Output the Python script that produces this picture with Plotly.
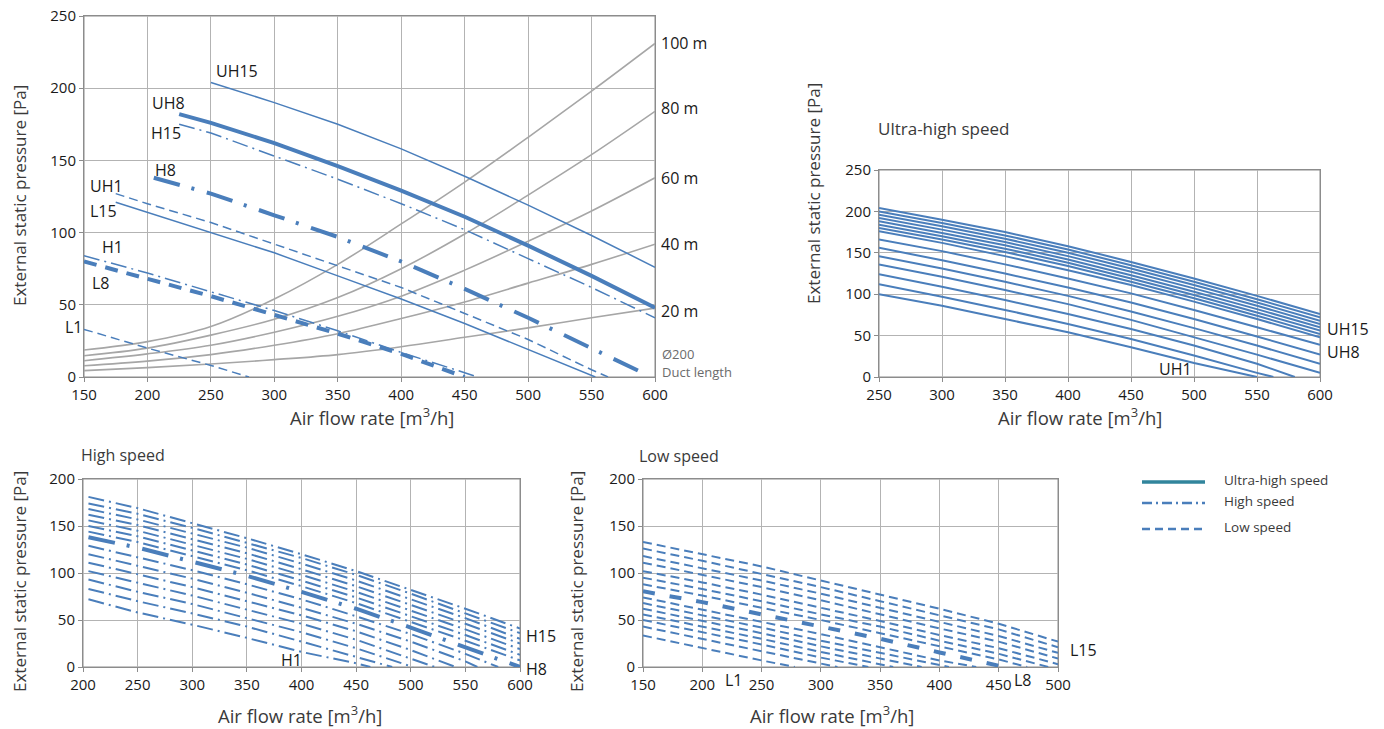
import plotly.graph_objects as go

# page body adds an 8px margin around the plot div, so positions are offset by it
W, H = 1376, 721
OFF = 8
BLUE = "#4a7ebb"
CURVE_GREY = "#a6a6a6"
GRID = "#b3b3b3"
AXIS = "#8c8c8c"
FONT = "Open Sans"
TXT = "#1a1a1a"

# ---------------- Main chart: fan curves + Ø200 duct resistance ----------------
DUCT_X = [150, 200, 250, 300, 350, 400, 450, 500, 550, 600]
DUCT_20 = [4.4, 6.5, 9, 12, 15.5, 21, 27.5, 34, 41, 47.7]
DUCT_40 = [7.8, 11, 15.5, 22, 30, 40.5, 52, 65, 78, 92]
DUCT_60 = [11.3, 16, 22, 31, 42, 56, 74, 94, 115, 138]
DUCT_80 = [14.7, 20, 29, 40, 55, 75, 99, 126, 154, 184]
DUCT_100 = [18.7, 24.5, 35, 54, 78, 106, 135, 166, 198, 231]
DUCT_LABELS = ["20 m", "40 m", "60 m", "80 m", "100 m"]

MAIN_UH15_X = [250, 300, 350, 400, 450, 500, 550, 600]
MAIN_UH15_Y = [204, 190, 175, 158, 139, 119, 98, 76]
MAIN_UH8_X = [225, 250, 300, 350, 400, 450, 500, 550, 600]
MAIN_UH8_Y = [182, 176, 162, 146, 129, 111, 91, 70, 48]
MAIN_UH1_X = [175, 200, 250, 300, 350, 400, 450, 500, 553]
MAIN_UH1_Y = [121, 114, 100, 86, 70, 54, 37, 19, 0]
MAIN_H15_X = [225, 250, 300, 350, 400, 450, 500, 550, 600]
MAIN_H15_Y = [175, 169, 153, 137, 120, 102, 82, 62, 41]
MAIN_H8_X = [205, 250, 300, 350, 400, 450, 500, 550, 590]
MAIN_H8_Y = [138, 127, 112, 97, 80, 61, 41, 20, 3]
MAIN_H1_X = [150, 200, 250, 300, 350, 400, 450, 460]
MAIN_H1_Y = [84, 72, 59, 46, 32, 17, 3, 0]
MAIN_L15_X = [175, 200, 250, 300, 350, 400, 450, 500, 550, 563]
MAIN_L15_Y = [127, 120, 107, 92, 77, 62, 44, 26, 5, 0]
MAIN_L8_X = [150, 200, 250, 300, 350, 400, 450]
MAIN_L8_Y = [80, 68, 56, 43, 30, 16, 0]
MAIN_L1_X = [150, 200, 250, 280]
MAIN_L1_Y = [33, 20, 8, 0]

# ---------------- Ultra-high speed ----------------
UH_X = [250, 300, 350, 400, 450, 500, 550, 600]
UH_END = {"UH1": 550, "UH2": 563, "UH3": 580}
UH_Y = {
    "UH1": [100, 86, 70, 54, 36, 17],
    "UH2": [112, 97, 81, 64, 46, 26, 5],
    "UH3": [124, 109, 93, 76, 58, 38, 16],
    "UH4": [136, 121, 105, 88, 69, 48, 27, 5],
    "UH5": [146, 131, 115, 98, 79, 59, 38, 16],
    "UH6": [156, 141, 125, 108, 90, 70, 49, 27],
    "UH7": [166, 152, 136, 119, 101, 81, 60, 39],
    "UH8": [176, 162, 146, 129, 111, 91, 70, 48],
    "UH9": [180, 166, 151, 134, 115, 95, 74, 52],
    "UH10": [184, 170, 155, 138, 119, 99, 78, 56],
    "UH11": [188, 174, 159, 142, 123, 103, 82, 60],
    "UH12": [192, 178, 163, 146, 127, 107, 86, 64],
    "UH13": [196, 182, 167, 150, 131, 111, 90, 68],
    "UH14": [200, 186, 171, 154, 135, 115, 94, 72],
    "UH15": [204, 190, 175, 158, 139, 119, 98, 76],
}

# ---------------- High speed ----------------
H_X = [205, 250, 300, 350, 400, 450, 500, 550, 600]
H_END = {"H1": 463, "H2": 483, "H3": 502, "H4": 522, "H5": 541, "H6": 561, "H7": 580}
H_Y = {
    "H1": [72, 58, 45, 31, 16, 4],
    "H2": [83, 70, 57, 43, 27, 11],
    "H3": [93, 80, 67, 52, 37, 20, 1],
    "H4": [102, 90, 76, 61, 46, 29, 9],
    "H5": [111, 99, 85, 70, 55, 38, 18],
    "H6": [120, 108, 94, 79, 63, 46, 27, 6],
    "H7": [129, 117, 103, 88, 72, 54, 35, 14],
    "H8": [138, 127, 112, 97, 80, 62, 42, 21, 0],
    "H9": [144, 133, 118, 103, 86, 68, 48, 28, 7],
    "H10": [150, 139, 124, 109, 92, 74, 54, 34, 13],
    "H11": [156, 145, 130, 115, 98, 80, 60, 40, 19],
    "H12": [162, 151, 136, 121, 104, 86, 66, 46, 25],
    "H13": [168, 157, 142, 127, 110, 92, 72, 52, 30],
    "H14": [174, 163, 148, 132, 116, 98, 78, 57, 36],
    "H15": [181, 169, 153, 137, 120, 102, 82, 62, 41],
}

# ---------------- Low speed ----------------
L_X = [150, 200, 250, 300, 350, 400, 450, 500]
L_END = {"L1": 278, "L2": 314, "L3": 340, "L4": 361, "L5": 385,
         "L6": 408, "L7": 431, "L8": 455, "L9": 474, "L10": 492}
L_Y = {
    "L1": [33.5, 20, 7],
    "L2": [43, 30, 17, 4],
    "L3": [50, 37, 24, 10],
    "L4": [56, 43, 30, 16, 3],
    "L5": [62, 49, 36, 22, 9],
    "L6": [68, 55, 42, 28, 15, 2],
    "L7": [74, 61, 48, 35, 21, 7],
    "L8": [80.5, 69, 56, 43, 30, 15.5, 1.5],
    "L9": [88, 76, 63, 50, 36, 22, 8],
    "L10": [95, 83, 70, 56, 43, 28, 14],
    "L11": [102, 90, 77, 63, 49, 34, 20, 3],
    "L12": [111, 98, 85, 71, 56, 41, 27, 9],
    "L13": [118, 105, 92, 78, 63, 48, 33, 15],
    "L14": [126, 113, 99, 85, 70, 55, 40, 21],
    "L15": [133, 120, 107, 92, 77, 62, 46, 27],
}

LEGEND_ITEMS = ["Ultra-high speed", "High speed", "Low speed"]

# dash styles
DASHDOT_THIN = "16px,5px,2px,5px"
DASHDOT_THICK = "27px,12px,3px,13px"
DASH_THIN = "9px,5px"
DASH_THICK_MAIN = "13px,9px"
DASH_THICK_LOW = "12px,15px"


def px(x):
    return (x - OFF) / W


def py(y):
    return 1 - (y - OFF) / H


fig = go.Figure()


def add_line(x, y, axes, width, dash="solid", color=BLUE, shape="linear"):
    fig.add_trace(go.Scatter(
        x=x, y=y, mode="lines", xaxis=axes[0], yaxis=axes[1],
        line=dict(color=color, width=width, dash=dash, shape=shape),
        hoverinfo="skip", showlegend=False))


def series(xs, ys, end):
    xx = list(xs[:len(ys)])
    yy = list(ys)
    if end is not None:
        xx.append(end)
        yy.append(0)
    return xx, yy


# ---- main chart
for d in [DUCT_20, DUCT_40, DUCT_60, DUCT_80, DUCT_100]:
    add_line(DUCT_X, d, ("x", "y"), 1.6, color=CURVE_GREY, shape="spline")
add_line(MAIN_L1_X, MAIN_L1_Y, ("x", "y"), 1.5, DASH_THIN)
add_line(MAIN_L15_X, MAIN_L15_Y, ("x", "y"), 1.5, DASH_THIN)
add_line(MAIN_L8_X, MAIN_L8_Y, ("x", "y"), 4, DASH_THICK_MAIN)
add_line(MAIN_H1_X, MAIN_H1_Y, ("x", "y"), 1.5, DASHDOT_THIN)
add_line(MAIN_H15_X, MAIN_H15_Y, ("x", "y"), 1.5, DASHDOT_THIN)
add_line(MAIN_H8_X, MAIN_H8_Y, ("x", "y"), 4, DASHDOT_THICK)
add_line(MAIN_UH1_X, MAIN_UH1_Y, ("x", "y"), 1.5)
add_line(MAIN_UH15_X, MAIN_UH15_Y, ("x", "y"), 1.5)
add_line(MAIN_UH8_X, MAIN_UH8_Y, ("x", "y"), 4)

# ---- ultra-high chart
for name, ys in UH_Y.items():
    xx, yy = series(UH_X, ys, UH_END.get(name))
    add_line(xx, yy, ("x2", "y2"), 2)

# ---- high chart
for name, ys in H_Y.items():
    xx, yy = series(H_X, ys, H_END.get(name))
    if name == "H8":
        add_line(xx, yy, ("x3", "y3"), 4, DASHDOT_THICK)
    else:
        add_line(xx, yy, ("x3", "y3"), 2, DASHDOT_THIN)

# ---- low chart
for name, ys in L_Y.items():
    xx, yy = series(L_X, ys, L_END.get(name))
    if name == "L8":
        add_line(xx, yy, ("x4", "y4"), 4, DASH_THICK_LOW)
    else:
        add_line(xx, yy, ("x4", "y4"), 2, DASH_THIN)


def axis_common():
    return dict(dtick=50, showgrid=True, gridcolor=GRID, gridwidth=1, showline=True,
                linecolor=AXIS, linewidth=1, mirror=True, ticks="outside", ticklen=4,
                tickcolor=AXIS, zeroline=False, automargin=False, fixedrange=True,
                ticklabeloverflow="allow",
                tickfont=dict(family=FONT, size=15, color=TXT))


def xax(dom, rng, anchor):
    d = axis_common()
    d.update(domain=[px(dom[0]), px(dom[1])], range=rng, anchor=anchor)
    return d


def yax(dom, rng, anchor):
    d = axis_common()
    d.update(domain=[py(dom[1]), py(dom[0])], range=rng, anchor=anchor)
    return d


PLOTS = [((84, 655), (16, 377)), ((879, 1320), (170, 377)),
         ((83, 520), (479, 667)), ((643, 1058), (479, 667))]

fig.update_layout(
    width=W, height=H, margin=dict(l=0, r=0, t=0, b=0, autoexpand=False),
    paper_bgcolor="white", plot_bgcolor="white", showlegend=False,
    xaxis=xax(PLOTS[0][0], [150, 600], "y"),
    yaxis=yax(PLOTS[0][1], [0, 250], "x"),
    xaxis2=xax(PLOTS[1][0], [250, 600], "y2"),
    yaxis2=yax(PLOTS[1][1], [0, 250], "x2"),
    xaxis3=xax(PLOTS[2][0], [200, 600], "y3"),
    yaxis3=yax(PLOTS[2][1], [0, 200], "x3"),
    xaxis4=xax(PLOTS[3][0], [150, 500], "y4"),
    yaxis4=yax(PLOTS[3][1], [0, 200], "x4"),
)

ann = []


def text(x, y, s, size=16, color=TXT, xanchor="left", angle=0):
    ann.append(dict(x=px(x), y=py(y), xref="paper", yref="paper", text=s, showarrow=False,
                    xanchor=xanchor, yanchor="middle", textangle=angle,
                    font=dict(family=FONT, size=size, color=color)))


YT = "External static pressure [Pa]"
XT = "Air flow rate [m<sup>3</sup>/h]"
GT = "#3a3a3a"
text(19, 196, YT, 17, GT, "center", -90)
text(813, 194, YT, 17, GT, "center", -90)
text(19, 582, YT, 17, GT, "center", -90)
text(576, 582, YT, 17, GT, "center", -90)
text(372, 416, XT, 18.5, GT, "center")
text(1080, 416, XT, 18.5, GT, "center")
text(300, 714, XT, 18.5, GT, "center")
text(832, 714, XT, 18.5, GT, "center")

# main chart labels
for s, x, y in [("UH15", 214, 71), ("UH8", 150, 103), ("H15", 149, 133), ("H8", 153, 170),
                ("UH1", 88, 186), ("L15", 88, 211), ("H1", 100, 247), ("L8", 90, 283),
                ("L1", 63, 327)]:
    text(x, y, s, 16)
for s, y in zip(DUCT_LABELS, [311, 244, 178, 108, 43]):
    text(659, y, s, 16)
text(660, 354, "Ø200", 13, "#6b6b6b")
text(660, 372, "Duct length", 13, "#6b6b6b")

# ultra-high chart
text(876, 128, "Ultra-high speed", 17, GT)
text(1325, 329, "UH15", 16)
text(1325, 352, "UH8", 16)
text(1157, 369, "UH1", 16)

# high chart
text(79, 455, "High speed", 16, GT)
text(524, 636, "H15", 16)
text(524, 669, "H8", 16)
text(279, 660, "H1", 16)

# low chart
text(637, 456, "Low speed", 16, GT)
text(1068, 650, "L15", 16)
text(723, 680, "L1", 16)
text(1012, 680, "L8", 16)

# legend
LEG_Y = [482, 503, 529]
LEG_STYLE = [("#31859c", 3.5, "solid"), (BLUE, 2.5, "10px,4px,2px,4px"), (BLUE, 2.5, "8px,5px")]
shapes = []
for lab, yy, (c, w, d) in zip(LEGEND_ITEMS, LEG_Y, LEG_STYLE):
    shapes.append(dict(type="line", xref="paper", yref="paper", x0=px(1142), x1=px(1205),
                       y0=py(yy), y1=py(yy), line=dict(color=c, width=w, dash=d)))
    text(1222, yy - 2, lab, 13.5, "#3a3a3a")

# plot-area frames
for (x0, x1), (y0, y1) in PLOTS:
    shapes.append(dict(type="rect", xref="paper", yref="paper", layer="below",
                       x0=px(x0), x1=px(x1), y0=py(y1), y1=py(y0),
                       line=dict(color=AXIS, width=1), fillcolor="rgba(0,0,0,0)"))

fig.update_layout(annotations=ann, shapes=shapes)
fig.write_html("out.html")
